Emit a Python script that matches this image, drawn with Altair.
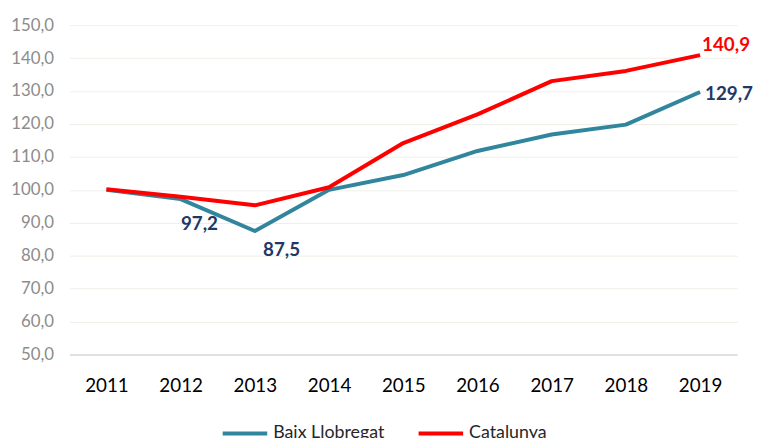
import altair as alt
import pandas as pd

years = ["2011", "2012", "2013", "2014", "2015", "2016", "2017", "2018", "2019"]
baix = [100.0, 97.2, 87.5, 100.0, 104.5, 111.8, 116.8, 119.8, 129.7]
catalunya = [100.2, 97.9, 95.3, 100.8, 114.2, 122.9, 133.0, 136.1, 140.9]
series_names = ["Baix Llobregat", "Catalunya"]
series_colors = ["#31859C", "#FF0000"]
y_ticks = [50, 60, 70, 80, 90, 100, 110, 120, 130, 140, 150]

rows = []
for name, vals in zip(series_names, [baix, catalunya]):
    for yr, v in zip(years, vals):
        rows.append({"year": yr, "value": v, "series": name})
df = pd.DataFrame(rows)

FONT = "Lato"

x_enc = alt.X(
    "year:O",
    scale=alt.Scale(type="point", padding=0.5),
    axis=alt.Axis(
        title=None, labelAngle=0, ticks=False, domain=True, domainColor="#D9D9D9",
        domainWidth=1.5, grid=False, labelFont=FONT, labelFontSize=19,
        labelColor="#000000", labelPadding=22,
    ),
)
y_enc = alt.Y(
    "value:Q",
    scale=alt.Scale(domain=[50, 150], nice=False, zero=False),
    axis=alt.Axis(
        title=None, values=y_ticks, tickCount=11, ticks=False, domain=False, grid=True,
        gridColor="#EFEFE8", gridWidth=1, labelFont=FONT, labelFontSize=17,
        labelColor="#8C8C8C", labelPadding=16, labelOverlap=False,
        labelExpr="replace(format(datum.value, '.1f'), '.', ',')",
    ),
)

base = alt.Chart(df)

lines = base.mark_line(strokeWidth=4, strokeJoin="round").encode(
    x=x_enc,
    y=y_enc,
    color=alt.Color(
        "series:N",
        scale=alt.Scale(domain=series_names, range=series_colors),
        legend=alt.Legend(
            title=None, orient="none", legendX=153, legendY=388,
            direction="horizontal", symbolType="stroke", symbolSize=2025,
            symbolStrokeWidth=4, labelFont=FONT, labelFontSize=18,
            labelColor="#262626", columnPadding=26, labelOffset=4,
        ),
    ),
)

def label_layer(series, year, color, align, dx, dy):
    return (
        base.transform_filter(
            (alt.datum.series == series) & (alt.datum.year == year)
        )
        .transform_calculate(
            lab="replace(format(datum.value, '.1f'), '.', ',')"
        )
        .mark_text(
            font=FONT, fontSize=19, fontWeight="bold", color=color,
            align=align, baseline="middle", dx=dx, dy=dy,
        )
        .encode(x=x_enc, y=y_enc, text="lab:N")
    )

labels = [
    label_layer("Baix Llobregat", "2012", "#1F3864", "center", 19, 25),
    label_layer("Baix Llobregat", "2013", "#1F3864", "center", 27, 19),
    label_layer("Baix Llobregat", "2019", "#1F3864", "left", 5, 2),
    label_layer("Catalunya", "2019", "#FF0000", "left", 2, -10),
]

chart = (
    alt.layer(lines, *labels)
    .properties(
        width=675, height=333,
        autosize=alt.AutoSizeParams(type="none"),
        padding={"left": 62, "top": 15, "right": 18, "bottom": 82},
        background="white",
    )
    .configure_view(stroke=None)
)

chart.save("out.html", embed_options={"renderer": "svg", "actions": False})
